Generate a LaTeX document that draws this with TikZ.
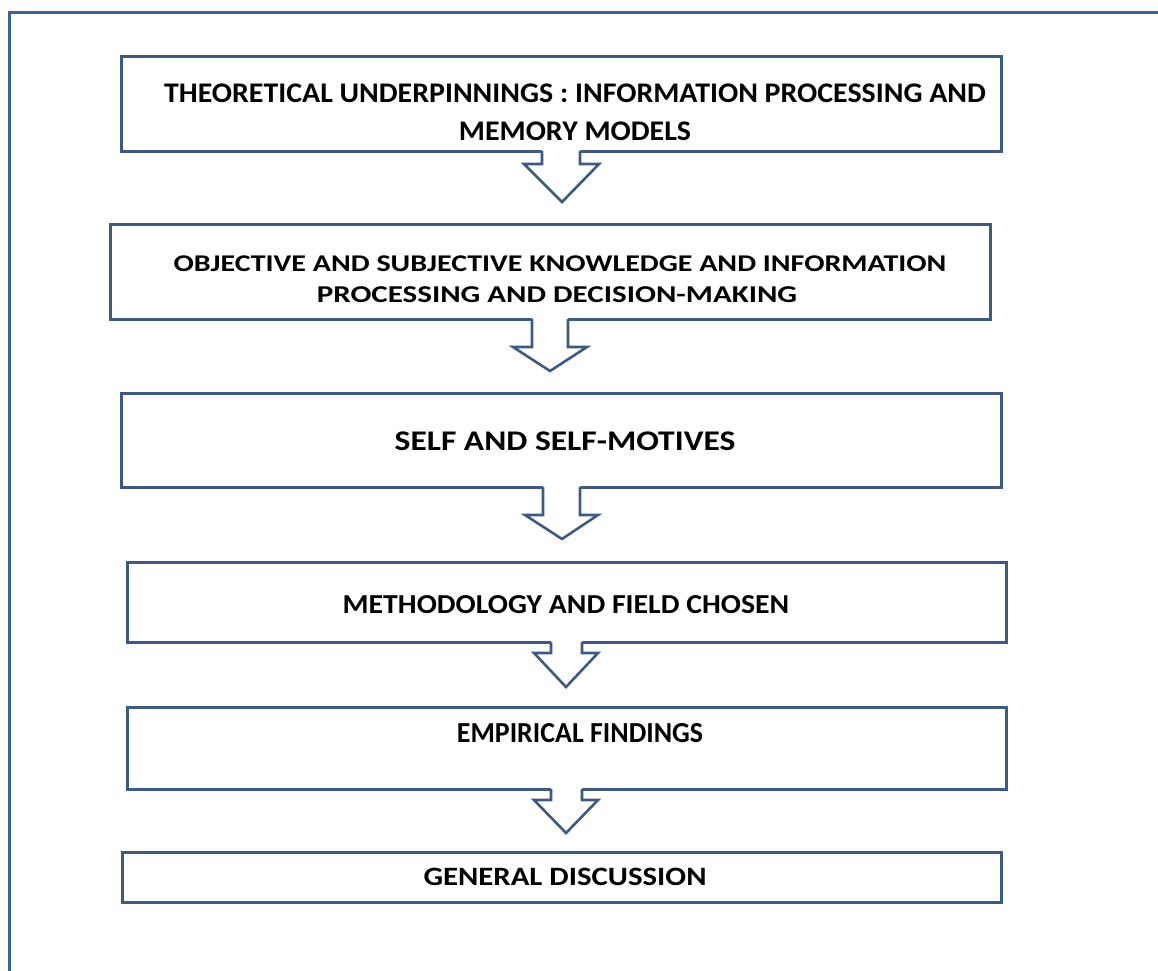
\documentclass[tikz,border=0pt]{standalone}
\usepackage{fontspec}
\setmainfont{Carlito}
\usetikzlibrary{calc}
\definecolor{edge}{HTML}{3E5A80}
\definecolor{frame}{HTML}{3F6494}
\tikzset{
  stepbox/.style={draw=edge, line width=3pt, fill=white, rectangle, inner sep=0pt, outer sep=0pt, anchor=north west},
  lbl/.style={anchor=base, inner sep=0pt, text=black},
  arrline/.style={draw=edge, line width=2.6pt, line join=miter},
}
% #1 size, #2 vertical ratio, #3 text
\newcommand\boxtext[3]{\scalebox{1}[#2]{\fontsize{#1}{#1}\selectfont\bfseries #3}}
% #1 from node, #2 stem left, #3 stem right, #4 head left, #5 head right, #6 head top y, #7 tip x, #8 tip y
\newcommand\flowarr[8]{%
  \fill[white] (#2,0 |- #1.south) ++(0,-3) -- (#2,#6) -- (#4,#6) -- (#7,#8) -- (#5,#6) -- (#3,#6) -- (#3,0 |- #1.south) -- ++(0,-3) -- cycle;
  \draw[arrline] (#2,0 |- #1.south) -- (#2,#6) -- (#4,#6) -- (#7,#8) -- (#5,#6) -- (#3,#6) -- (#3,0 |- #1.south);
}
\begin{document}
\begin{tikzpicture}[x=1pt,y=-1pt]
\useasboundingbox (0,0) rectangle (1158,970);
\fill[white] (0,0) rectangle (1158,970);
\draw[frame, line width=3pt] (9,975) -- (9,12) -- (1163,12);

\node[stepbox, minimum width=880, minimum height=95] (b1) at (121,56) {};
\node[stepbox, minimum width=880, minimum height=95] (b2) at (110,224) {};
\node[stepbox, minimum width=880, minimum height=94] (b3) at (121,393) {};
\node[stepbox, minimum width=879, minimum height=80] (b4) at (127,562) {};
\node[stepbox, minimum width=879, minimum height=82] (b5) at (127,707) {};
\node[stepbox, minimum width=879, minimum height=50] (b6) at (122,852) {};

\flowarr{b1}{542}{580}{524}{599}{164}{562}{202}
\flowarr{b2}{532}{568}{513}{587}{347}{550}{371}
\flowarr{b3}{543}{580}{525}{598}{515}{562}{539}
\flowarr{b4}{551}{582}{534}{598}{653}{566}{687}
\flowarr{b5}{551}{582}{534}{598}{800}{566}{833}

\node[lbl] (t1a) at (575,102) {\boxtext{29.9}{0.95}{THEORETICAL UNDERPINNINGS : INFORMATION PROCESSING AND}};
\node[lbl] (t1b) at (575,140) {\boxtext{29.9}{0.95}{MEMORY MODELS}};
\node[lbl] (t2a) at (560,271) {\boxtext{30}{0.80}{OBJECTIVE AND SUBJECTIVE KNOWLEDGE AND INFORMATION}};
\node[lbl] (t2b) at (557,302) {\boxtext{31}{0.78}{PROCESSING AND DECISION-MAKING}};
\node[lbl] (t3) at (565,450) {\boxtext{33.5}{0.85}{SELF AND SELF-MOTIVES}};
\node[lbl] (t4) at (566,613) {\boxtext{29.8}{0.92}{METHODOLOGY AND FIELD CHOSEN}};
\node[lbl] (t5) at (580,742) {\boxtext{27.9}{1.04}{EMPIRICAL FINDINGS}};
\node[lbl] (t6) at (565,885) {\boxtext{30.8}{0.86}{GENERAL DISCUSSION}};
\end{tikzpicture}
\end{document}
